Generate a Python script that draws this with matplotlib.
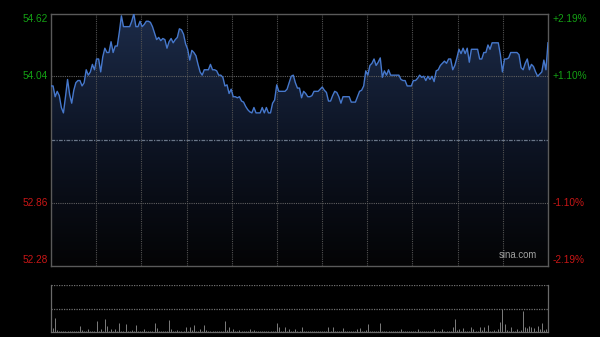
import numpy as np
import matplotlib
matplotlib.use('Agg')
import matplotlib.pyplot as plt
from matplotlib.colors import LinearSegmentedColormap
from matplotlib.patches import PathPatch

plt.rcParams['font.family'] = ['Liberation Sans', 'DejaVu Sans']

PREV_CLOSE = 53.45
Y_TICKS = [52.28, 52.86, 53.45, 54.04, 54.62]
LEFT_LABELS = ['52.28', '52.86', '', '54.04', '54.62']
RIGHT_LABELS = ['-2.19%', '-1.10%', '', '+1.10%', '+2.19%']

# one price per minute, 241 minutes
prices = [
    53.95, 53.95, 53.85, 53.90, 53.86, 53.75, 53.70, 53.85, 54.01, 53.87,
    53.79, 53.91, 53.98, 54.00, 54.00, 53.95, 53.98, 54.10, 54.05, 54.08,
    54.15, 54.10, 54.20, 54.20, 54.08, 54.22, 54.30, 54.26, 54.26, 54.36,
    54.26, 54.32, 54.32, 54.45, 54.60, 54.50, 54.50, 54.50, 54.50, 54.55,
    54.62, 54.50, 54.50, 54.55, 54.50, 54.52, 54.55, 54.55, 54.54, 54.50,
    54.44, 54.38, 54.40, 54.37, 54.39, 54.38, 54.30, 54.36, 54.39, 54.35,
    54.38, 54.40, 54.48, 54.47, 54.43, 54.34, 54.29, 54.19, 54.28, 54.26,
    54.23, 54.15, 54.08, 54.05, 54.10, 54.10, 54.10, 54.15, 54.10, 54.10,
    54.09, 54.05, 54.05, 54.03, 53.95, 53.96, 53.88, 53.92, 53.85, 53.85,
    53.84, 53.85, 53.81, 53.80, 53.76, 53.73, 53.71, 53.70, 53.75, 53.70,
    53.70, 53.70, 53.75, 53.70, 53.75, 53.70, 53.70, 53.79, 53.82, 53.96,
    53.90, 53.90, 53.90, 53.90, 53.92, 53.98, 54.04, 54.05, 53.98, 53.93,
    53.93, 53.84, 53.90, 53.88, 53.85, 53.85, 53.86, 53.90, 53.90, 53.90,
    53.92, 53.94, 53.91, 53.89, 53.81, 53.81, 53.86, 53.90, 53.89, 53.85,
    53.79, 53.85, 53.85, 53.85, 53.85, 53.80, 53.80, 53.80, 53.85, 53.90,
    53.91, 53.95, 54.09, 54.05, 54.14, 54.16, 54.20, 54.14, 54.17, 54.21,
    54.03, 54.09, 54.05, 54.10, 54.05, 54.05, 54.05, 54.05, 54.05, 54.01,
    54.00, 54.00, 53.95, 53.95, 53.95, 54.00, 54.00, 54.02, 54.05, 54.03,
    54.04, 54.00, 54.04, 54.01, 54.04, 53.99, 54.09, 54.10, 54.14, 54.16,
    54.18, 54.16, 54.20, 54.20, 54.10, 54.14, 54.21, 54.29, 54.25, 54.30,
    54.25, 54.30, 54.17, 54.29, 54.29, 54.29, 54.29, 54.20, 54.20, 54.26,
    54.26, 54.33, 54.29, 54.35, 54.35, 54.35, 54.35, 54.24, 54.08, 54.20,
    54.20, 54.21, 54.26, 54.26, 54.26, 54.26, 54.24, 54.12, 54.10, 54.16,
    54.20, 54.10, 54.15, 54.13, 54.08, 54.04, 54.06, 54.08, 54.19, 54.10, 54.35,
]

volumes = [
    70, 40, 137, 20, 15, 10, 12, 10, 8, 10,
    12, 10, 14, 10, 60, 20, 10, 12, 27, 10,
    14, 12, 110, 15, 27, 12, 127, 60, 10, 27,
    12, 27, 10, 93, 14, 12, 80, 15, 10, 20,
    12, 70, 10, 14, 10, 27, 12, 10, 15, 10,
    93, 37, 12, 10, 14, 10, 12, 120, 33, 10,
    14, 20, 12, 10, 15, 47, 12, 47, 20, 67,
    14, 10, 27, 12, 67, 20, 10, 12, 10, 14,
    10, 12, 10, 15, 110, 20, 53, 12, 27, 10,
    14, 20, 10, 12, 10, 15, 27, 12, 20, 10,
    12, 10, 14, 10, 12, 10, 15, 12, 10, 93,
    47, 12, 10, 53, 14, 27, 10, 12, 27, 10,
    14, 47, 12, 10, 15, 10, 12, 14, 10, 12,
    10, 14, 12, 15, 53, 12, 53, 10, 14, 12,
    10, 37, 12, 10, 14, 12, 10, 15, 27, 37,
    12, 14, 20, 80, 12, 10, 14, 12, 10, 93,
    14, 12, 10, 15, 12, 10, 14, 12, 10, 27,
    12, 10, 14, 12, 10, 15, 12, 33, 10, 12,
    14, 10, 12, 15, 10, 33, 12, 14, 10, 27,
    12, 15, 10, 14, 47, 127, 20, 27, 14, 37,
    12, 15, 10, 47, 27, 12, 14, 47, 20, 53,
    14, 70, 12, 15, 20, 14, 27, 103, 227, 80,
    20, 14, 47, 12, 15, 27, 14, 20, 213, 53,
    37, 60, 47, 37, 14, 60, 27, 87, 20, 33, 40,
]
VOL_MAX = 470

GREEN = '#14a014'
RED = '#c81616'
GRID = '#525252'
FRAME = '#5a5a5a'

x = np.arange(len(prices))
xmax = len(prices) - 1

fig = plt.figure(figsize=(6, 3.37), dpi=100, facecolor='black')
ax = fig.add_axes([51 / 600, 1 - 266 / 337, 497 / 600, 252.3 / 337])
vax = fig.add_axes([51 / 600, 1 - 332 / 337, 497 / 600, 47 / 337])
for a in (ax, vax):
    a.set_facecolor('black')
    a.set_xticks([])
    a.set_yticks([])

lo, hi = Y_TICKS[0], Y_TICKS[-1]
ax.set_xlim(0, xmax)
ax.set_ylim(lo, hi)

# gradient fill under the price line
fill = ax.fill_between(x, prices, lo, facecolor='none', edgecolor='none')
clip = PathPatch(fill.get_paths()[0], transform=ax.transData,
                 facecolor='none', edgecolor='none')
ax.add_patch(clip)
cmap = LinearSegmentedColormap.from_list('bg', ['#040405', '#0d1424', '#1c2b48'])
grad = np.linspace(1, 0, 256).reshape(-1, 1)
im = ax.imshow(grad, extent=[0, xmax, lo, hi], aspect='auto', cmap=cmap,
               origin='upper', zorder=1)
im.set_clip_path(clip)

# grid
for k in range(1, 11):
    ax.axvline(k * xmax / 11, color=GRID, lw=0.8, ls=(0, (1, 1)), zorder=2)
for yv in (Y_TICKS[1], Y_TICKS[3]):
    ax.axhline(yv, color='#606060', lw=0.8, ls=(0, (1, 1)), zorder=2)
ax.axhline(PREV_CLOSE, color='#6a7688', lw=0.9, ls=(0, (3, 1, 1, 1)), zorder=2)

ax.plot(x, prices, color='#4678cc', lw=1.0, zorder=3)

for s in ax.spines.values():
    s.set_color(FRAME)
    s.set_linewidth(1.0)

# axis labels
offsets = [4.3, 0, 0, 0, -3.6]
for yv, ll, rl, off in zip(Y_TICKS, LEFT_LABELS, RIGHT_LABELS, offsets):
    if not ll:
        continue
    col = GREEN if yv > PREV_CLOSE else RED
    ax.annotate(ll, xy=(0, yv), xycoords=('axes fraction', 'data'),
                xytext=(-2.5, off), textcoords='offset points',
                ha='right', va='center', fontsize=7.3, color=col)
    ax.annotate(rl, xy=(1, yv), xycoords=('axes fraction', 'data'),
                xytext=(3.5, off), textcoords='offset points',
                ha='left', va='center', fontsize=7.3, color=col)

ax.text(0.978, 0.022, 'sina.com', transform=ax.transAxes, ha='right',
        va='bottom', fontsize=6.9, color='#a0a0a0', zorder=4)

# volume panel
vax.set_xlim(0, xmax)
vax.set_ylim(0, VOL_MAX)
vax.vlines(x, 0, volumes, color='#7c7c7c', lw=0.7)
vax.axhline(VOL_MAX, color='#707070', lw=0.9, ls=(0, (1, 1)))
vax.axhline(VOL_MAX / 2, color='#707070', lw=0.9, ls=(0, (1, 1)))
vax.spines['top'].set_visible(False)
for side in ('left', 'right', 'bottom'):
    vax.spines[side].set_color('#6a6a6a')
    vax.spines[side].set_linewidth(0.9)

fig.savefig('out.png', dpi=100, facecolor='black')
